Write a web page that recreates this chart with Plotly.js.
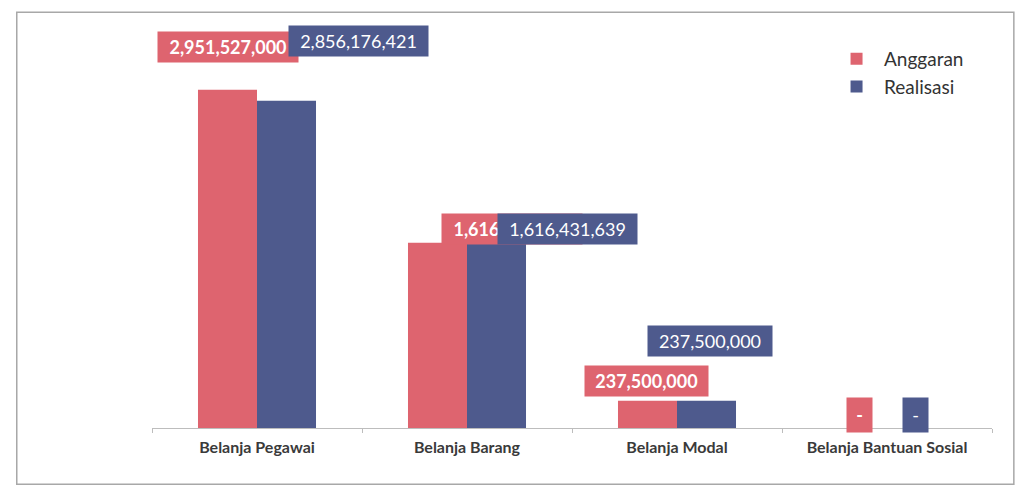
<!DOCTYPE html>
<html>
<head>
<meta charset="utf-8">
<script src="https://cdn.plot.ly/plotly-3.0.1.min.js"></script>
<style>html,body{margin:0;padding:0;background:#fff;}#chart{width:1024px;height:496px;}</style>
</head>
<body>
<div id="chart"></div>
<script>
const categories = ["Belanja Pegawai", "Belanja Barang", "Belanja Modal", "Belanja Bantuan Sosial"];
const anggaran = [2951527000, 1616500000, 237500000, 0];
const realisasi = [2856176421, 1616431639, 237500000, 0];
const anggaranLabels = ["2,951,527,000", "1,616,500,000", "237,500,000", "-"];
const realisasiLabels = ["2,856,176,421", "1,616,431,639", "237,500,000", "-"];

const RED = "#DE646F";
const BLUE = "#4E5A8D";

// label placement (styling only): [xshift, yshift, box width]
const redShift = [[-29, 43, 130], [45, 14, 130], [-31, 20, 113], [-28, 13, 15]];
const blueShift = [[101, 60, 129], [100, 14, 129], [33, 60, 114], [28, 13, 15]];

const annotations = [];
function addLabels(vals, labels, shifts, color, bold) {
  for (let i = 0; i < categories.length; i++) {
    const dash = labels[i] === "-";
    annotations.push({
      x: categories[i], y: vals[i], xref: "x", yref: "y",
      text: bold ? "<b>" + labels[i] + "</b>" : labels[i],
      showarrow: false, xanchor: "center", yanchor: "middle",
      xshift: shifts[i][0], yshift: shifts[i][1],
      bgcolor: color, borderpad: 5,
      width: shifts[i][2], height: dash ? 24 : 20,
      font: {family: "Lato, 'Open Sans', sans-serif", size: 18, color: "#ffffff"}
    });
  }
}
addLabels(anggaran, anggaranLabels, redShift, RED, true);
addLabels(realisasi, realisasiLabels, blueShift, BLUE, false);

const data = [
  {type: "bar", name: "Anggaran", x: categories, y: anggaran,
   marker: {color: RED, line: {width: 0}}, hoverinfo: "skip"},
  {type: "bar", name: "Realisasi", x: categories, y: realisasi,
   marker: {color: BLUE, line: {width: 0}}, hoverinfo: "skip"}
];

const layout = {
  width: 1024, height: 496,
  margin: {l: 152, r: 32, t: 27, b: 68},
  paper_bgcolor: "#ffffff", plot_bgcolor: "#ffffff",
  barmode: "group", bargap: 0.438, bargroupgap: 0,
  showlegend: true,
  legend: {x: 0.806, y: 0.968, xanchor: "left", yanchor: "top", itemwidth: 45,
           font: {family: "Lato, 'Open Sans', sans-serif", size: 19, color: "#333333"},
           bgcolor: "rgba(0,0,0,0)", tracegroupgap: 0},
  xaxis: {type: "category", showline: true, linecolor: "#bdbdbd", linewidth: 1,
          ticks: "outside", tickson: "boundaries", ticklen: 4, tickcolor: "#bdbdbd",
          ticklabelstandoff: 5,
          showgrid: false, zeroline: false,
          tickfont: {family: "Lato, 'Open Sans', sans-serif", size: 16, color: "#3a3a3a", weight: "bold"}},
  yaxis: {range: [0, 3.5e9], visible: false, showgrid: false, zeroline: false},
  annotations: annotations,
  shapes: [{type: "rect", xref: "paper", yref: "paper", x0: -0.161, x1: 1.026, y0: -0.14, y1: 1.037,
            line: {color: "#a8a8a8", width: 1.5}, fillcolor: "rgba(0,0,0,0)", layer: "below"}]
};

Plotly.newPlot("chart", data, layout, {displayModeBar: false, staticPlot: true});
</script>
</body>
</html>
